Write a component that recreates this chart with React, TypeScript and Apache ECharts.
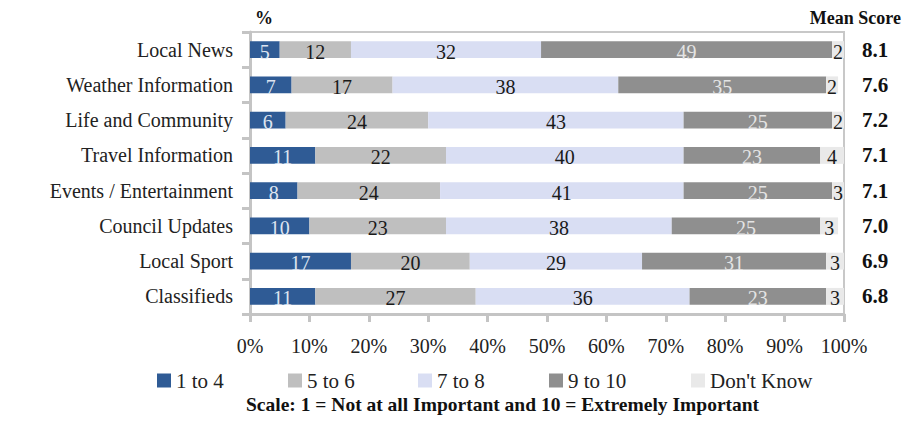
import React, { useEffect, useRef } from "react";
import * as echarts from "echarts";

const categories = [
  "Local News",
  "Weather Information",
  "Life and Community",
  "Travel Information",
  "Events / Entertainment",
  "Council Updates",
  "Local Sport",
  "Classifieds",
];
const meanScores = ["8.1", "7.6", "7.2", "7.1", "7.1", "7.0", "6.9", "6.8"];
const seriesNames = ["1 to 4", "5 to 6", "7 to 8", "9 to 10", "Don't Know"];
const s1to4 = [5, 7, 6, 11, 8, 10, 17, 11];
const s5to6 = [12, 17, 24, 22, 24, 23, 20, 27];
const s7to8 = [32, 38, 43, 40, 41, 38, 29, 36];
const s9to10 = [49, 35, 25, 23, 25, 25, 31, 23];
const sDontKnow = [2, 2, 2, 4, 3, 3, 3, 3];
const xTicks = [0, 10, 20, 30, 40, 50, 60, 70, 80, 90, 100];

const colors = ["#2f5b95", "#bfbfbf", "#d9def3", "#8f8f8f", "#e9e9e9"];
const labelColors = ["#dde4f0", "#1a1a1a", "#1a1a1a", "#e4e4e4", "#1a1a1a"];
const FONT = "Liberation Serif";

export default function App() {
  const ref = useRef<HTMLDivElement>(null);
  useEffect(() => {
    if (!ref.current) return;
    const chart = echarts.init(ref.current, null, { renderer: "svg" });
    const data = [s1to4, s5to6, s7to8, s9to10, sDontKnow];
    const legendLefts = [157, 288, 418, 549, 691];
    const option: any = {
      animation: false,
      textStyle: { fontFamily: FONT },
      title: [
        {
          text: "%",
          left: 250,
          top: 4,
          textStyle: { fontFamily: FONT, fontSize: 18, fontWeight: "bold", color: "#111" },
        },
        {
          text: "Mean Score",
          right: 8,
          top: 4,
          textStyle: { fontFamily: FONT, fontSize: 18, fontWeight: "bold", color: "#111" },
        },
      ],
      legend: seriesNames.map((n, i) => ({
        data: [n],
        left: legendLefts[i],
        top: 370,
        icon: "rect",
        itemWidth: 14,
        itemHeight: 14,
        itemGap: 4,
        padding: 0,
        selectedMode: false,
        textStyle: { fontFamily: FONT, fontSize: 21, color: "#222", padding: [3, 0, 0, 0] },
      })),
      graphic: [
        {
          type: "text",
          left: 246,
          top: 394,
          style: {
            text: "Scale: 1 = Not at all Important and 10 = Extremely Important",
            fontFamily: FONT,
            fontSize: 19.5,
            fontWeight: "bold",
            fill: "#111",
          },
        },
      ],
      grid: {
        left: 250,
        right: 70,
        top: 32,
        bottom: 109,
        show: true,
        borderColor: "#c8c8c8",
        borderWidth: 2,
        containLabel: false,
      },
      xAxis: {
        type: "value",
        min: 0,
        max: 100,
        interval: 10,
        axisLine: { show: true, lineStyle: { color: "#c4c4c4", width: 3 } },
        axisTick: { show: true, length: 8, lineStyle: { color: "#c4c4c4", width: 3 } },
        splitLine: { show: false },
        axisLabel: {
          margin: 22,
          fontFamily: FONT,
          fontSize: 20,
          color: "#222",
          formatter: (v: number) => (xTicks.includes(v) ? `${v}%` : ""),
        },
      },
      yAxis: [
        {
          type: "category",
          data: categories,
          inverse: true,
          axisLine: { show: true, lineStyle: { color: "#c4c4c4", width: 3 } },
          axisTick: { show: true, length: 8, lineStyle: { color: "#c4c4c4", width: 3 } },
          axisLabel: { margin: 17, fontFamily: FONT, fontSize: 20, color: "#222" },
        },
        {
          type: "category",
          data: meanScores,
          inverse: true,
          position: "right",
          axisLine: { show: false },
          axisTick: { show: false },
          axisLabel: {
            margin: 18,
            fontFamily: FONT,
            fontSize: 21,
            fontWeight: "bold",
            color: "#111",
          },
        },
      ],
      series: seriesNames.map((n, i) => ({
        name: n,
        type: "bar",
        stack: "total",
        barWidth: "48%",
        yAxisIndex: 0,
        data: data[i],
        itemStyle: { color: colors[i] },
        label: {
          show: true,
          position: "inside",
          offset: [0, 2],
          fontFamily: FONT,
          fontSize: 20,
          color: labelColors[i],
        },
      })),
    };
    chart.setOption(option);
    return () => chart.dispose();
  }, []);
  return <div ref={ref} style={{ width: 914, height: 423, margin: -8 }} />;
}
